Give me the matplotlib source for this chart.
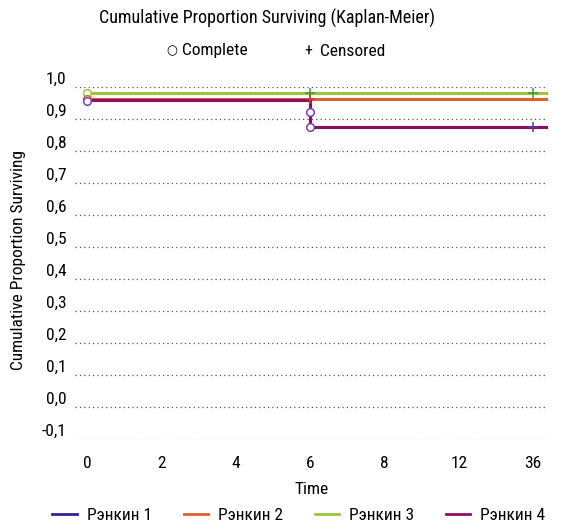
import matplotlib
matplotlib.use("Agg")
import matplotlib.pyplot as plt
from matplotlib.lines import Line2D
from matplotlib import font_manager

# Data
times = ["0", "2", "4", "6", "8", "12", "36"]
series = ["Рэнкин 1", "Рэнкин 2", "Рэнкин 3", "Рэнкин 4"]
colors = ["#3b1f8f", "#e0622f", "#99c83b", "#8a0f62"]

# step curves: (time index, survival) pairs
rankin2_x = [0, 6.2]
rankin2_y = [0.964, 0.964]
rankin3_x = [0, 6.2]
rankin3_y = [0.981, 0.981]
rankin4_x = [0, 3, 3, 6.2]
rankin4_y = [0.959, 0.959, 0.876, 0.876]
rankin1_x = rankin4_x
rankin1_y = rankin4_y

# complete events (circles)
complete_x = [0, 0, 0, 3, 3]
complete_y = [0.981, 0.964, 0.955, 0.921, 0.876]
complete_c = ["#99c83b", "#e0622f", "#7a3fb0", "#7a3fb0", "#7a3fb0"]

# censored events (plus)
censor_x = [3, 6, 3, 6]
censor_y = [0.981, 0.981, 0.964, 0.876]
censor_c = ["#3f9a3a", "#3f9a3a", "#c0403a", "#5a3aa0"]

yticks = [1.0, 0.9, 0.8, 0.7, 0.6, 0.5, 0.4, 0.3, 0.2, 0.1, 0.0, -0.1]

# condensed font with cyrillic, if installed
names = {f.name for f in font_manager.fontManager.ttflist}
prefs = ["Roboto Condensed", "PT Sans Narrow", "Fira Sans Condensed", "Liberation Sans Narrow"]
fam = next((p for p in prefs if p in names), "Roboto")
plt.rcParams["font.family"] = [fam, "DejaVu Sans"]
fs = 12.5

fig = plt.figure(figsize=(5.68, 5.26), dpi=100)
ax = fig.add_axes([75 / 568, 1 - 439 / 526, (548 - 75) / 568, (439 - 87) / 526])

for yv in yticks:
    ax.axhline(yv, color="#555555", lw=0.9, ls=(0, (1, 2.5)), zorder=1)

ax.plot(rankin1_x, rankin1_y, color=colors[0], lw=2.2, zorder=2)
ax.plot(rankin2_x, rankin2_y, color=colors[1], lw=2.2, zorder=3)
ax.plot(rankin3_x, rankin3_y, color=colors[2], lw=2.2, zorder=3)
ax.plot(rankin4_x, rankin4_y, color=colors[3], lw=2.2, zorder=4)

for x, y, c in zip(censor_x, censor_y, censor_c):
    ax.plot(x, y, marker="+", ms=7, mew=1.1, color=c, zorder=5)
for x, y, c in zip(complete_x, complete_y, complete_c):
    ax.plot(x, y, marker="o", ms=5.5, mfc="white", mec=c, mew=1.1, zorder=6)

ax.set_xlim(-0.16, 6.2)
ax.set_ylim(-0.1, 1.0)
ax.set_xticks(range(len(times)))
ax.set_xticklabels(times, fontsize=fs)
ax.set_yticks(yticks)
ax.set_yticklabels([f"{v:.1f}".replace(".", ",") for v in yticks], fontsize=fs)
for lab in ax.get_yticklabels():
    lab.set_verticalalignment("bottom")
ax.tick_params(length=0, pad=6)
ax.tick_params(axis="x", pad=12)
for s in ax.spines.values():
    s.set_visible(False)
ax.set_xlabel("Time", fontsize=fs, labelpad=8)
ax.set_ylabel("Cumulative Proportion Surviving", fontsize=fs)
ax.yaxis.set_label_coords(-0.104, 0.508)

fig.text(267 / 568, 1 - 18 / 526, "Cumulative Proportion Surviving (Kaplan-Meier)",
         ha="center", va="center", fontsize=fs + 0.5)
fig.text(172 / 568, 1 - 51 / 526, "○", ha="center", va="center", fontsize=9,
         family=["DejaVu Sans"])
fig.text(182 / 568, 1 - 51 / 526, "Complete", ha="left", va="center", fontsize=fs)
fig.text(308 / 568, 1 - 51 / 526, "+", ha="center", va="center", fontsize=fs - 1)
fig.text(320 / 568, 1 - 51 / 526, "Censored", ha="left", va="center", fontsize=fs)

handles = [Line2D([], [], color=c, lw=2) for c in colors]
fig.legend(handles, series, loc="center", bbox_to_anchor=(299 / 568, 1 - 515 / 526),
           ncol=4, frameon=False, fontsize=fs, handlelength=1.4,
           columnspacing=1.8, handletextpad=0.6, borderpad=0, borderaxespad=0)

fig.savefig("out.png", dpi=100)
